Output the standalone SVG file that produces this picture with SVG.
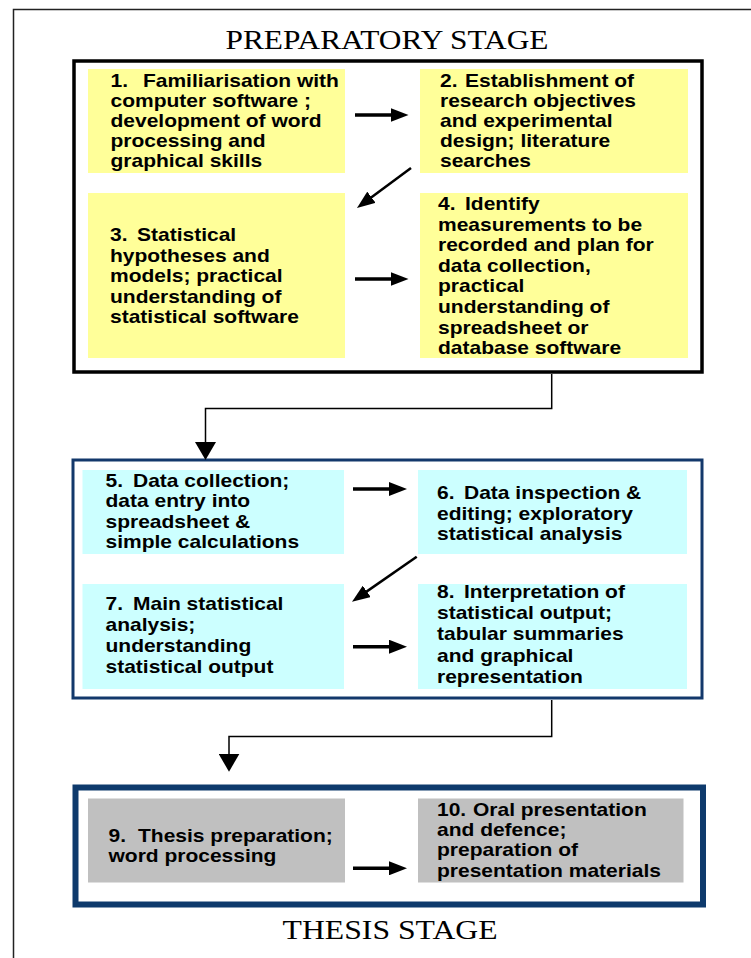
<svg xmlns="http://www.w3.org/2000/svg" width="751" height="958" viewBox="0 0 751 958">
<defs>
<style>
.t{font-family:"Liberation Sans",Arial,sans-serif;font-weight:bold;font-size:17.8px;fill:#000}
.ttl{font-family:"Liberation Serif","Times New Roman",serif;font-size:27px;fill:#000}
.y{fill:#ffff99}
.c{fill:#ccffff}
.g{fill:#c0c0c0}
.arr{stroke:#000;stroke-width:3.5;fill:none;marker-end:url(#ah)}
.diag{stroke:#000;stroke-width:2.5;fill:none;marker-end:url(#ah)}
.con{stroke:#000;stroke-width:1.5;fill:none;marker-end:url(#tri)}
</style>
<marker id="ah" markerUnits="userSpaceOnUse" viewBox="0 0 18 14" refX="10" refY="7" markerWidth="18" markerHeight="14" orient="auto"><path d="M0,0 L18,7 L0,14 z" fill="#000"/></marker>
<marker id="tri" markerUnits="userSpaceOnUse" viewBox="0 0 18 21" refX="14" refY="10.5" markerWidth="18" markerHeight="21" orient="auto"><path d="M0,0 L18,10.5 L0,21 z" fill="#000"/></marker>
</defs>
<rect x="0" y="0" width="751" height="958" fill="#fff"/>
<path d="M751,9.5 H13.5 V958" stroke="#222" stroke-width="1.5" fill="none"/>

<text class="ttl" x="225.5" y="49.3" textLength="323" lengthAdjust="spacingAndGlyphs">PREPARATORY STAGE</text>
<rect id="prep-stage" x="74" y="61" width="628" height="311" fill="none" stroke="#000" stroke-width="3.5"/>
<rect id="analysis-stage" x="73" y="460" width="629" height="238" fill="none" stroke="#13386b" stroke-width="3"/>
<rect id="thesis-stage" x="75.5" y="787.5" width="627.5" height="117" fill="none" stroke="#0e3a6c" stroke-width="6"/>
<text class="ttl" x="282.6" y="939.3" textLength="215" lengthAdjust="spacingAndGlyphs">THESIS STAGE</text>

<g id="n1">
<rect class="y" x="88" y="69" width="257" height="104"/>
<text class="t" transform="matrix(1.18,0,0,1,-19.89,0)"><tspan x="110.5" y="87.5">1.</tspan><tspan x="138" y="87.5">Familiarisation with</tspan><tspan x="110.5" y="107.5">computer software ;</tspan><tspan x="110.5" y="127.5">development of word</tspan><tspan x="110.5" y="147.5">processing and</tspan><tspan x="110.5" y="167.5">graphical skills</tspan></text>
</g>
<g id="n2">
<rect class="y" x="420" y="69" width="268" height="104"/>
<text class="t" transform="matrix(1.18,0,0,1,-79.2,0)"><tspan x="440" y="87.5">2.</tspan><tspan x="461.2" y="87.5">Establishment of</tspan><tspan x="440" y="107.5">research objectives</tspan><tspan x="440" y="127.5">and experimental</tspan><tspan x="440" y="147.5">design; literature</tspan><tspan x="440" y="167.5">searches</tspan></text>
</g>
<g id="n3">
<rect class="y" x="88" y="193" width="257" height="165"/>
<text class="t" transform="matrix(1.18,0,0,1,-19.8,0)"><tspan x="110" y="241.5">3.</tspan><tspan x="132.9" y="241.5">Statistical</tspan><tspan x="110" y="262">hypotheses and</tspan><tspan x="110" y="282.5">models; practical</tspan><tspan x="110" y="303">understanding of</tspan><tspan x="110" y="323.5">statistical software</tspan></text>
</g>
<g id="n4">
<rect class="y" x="420" y="193" width="268" height="165"/>
<text class="t" transform="matrix(1.18,0,0,1,-78.84,0)"><tspan x="438" y="210">4.</tspan><tspan x="460.9" y="210">Identify</tspan><tspan x="438" y="230.6">measurements to be</tspan><tspan x="438" y="251.2">recorded and plan for</tspan><tspan x="438" y="271.8">data collection,</tspan><tspan x="438" y="292.4">practical</tspan><tspan x="438" y="313">understanding of</tspan><tspan x="438" y="333.6">spreadsheet or</tspan><tspan x="438" y="354.2">database software</tspan></text>
</g>
<g id="n5">
<rect class="c" x="82.5" y="470" width="261.5" height="84"/>
<text class="t" transform="matrix(1.18,0,0,1,-18.99,0)"><tspan x="105.5" y="487">5.</tspan><tspan x="128.8" y="487">Data collection;</tspan><tspan x="105.5" y="507.4">data entry into</tspan><tspan x="105.5" y="527.8">spreadsheet &amp;</tspan><tspan x="105.5" y="548.2">simple calculations</tspan></text>
</g>
<g id="n6">
<rect class="c" x="418" y="470" width="269" height="84"/>
<text class="t" transform="matrix(1.18,0,0,1,-78.66,0)"><tspan x="437" y="499.5">6.</tspan><tspan x="459.9" y="499.5">Data inspection &amp;</tspan><tspan x="437" y="520">editing; exploratory</tspan><tspan x="437" y="540.5">statistical analysis</tspan></text>
</g>
<g id="n7">
<rect class="c" x="82.5" y="584" width="261.5" height="105"/>
<text class="t" transform="matrix(1.18,0,0,1,-18.99,0)"><tspan x="105.5" y="610.5">7.</tspan><tspan x="128.8" y="610.5">Main statistical</tspan><tspan x="105.5" y="631.5">analysis;</tspan><tspan x="105.5" y="652.5">understanding</tspan><tspan x="105.5" y="673.5">statistical output</tspan></text>
</g>
<g id="n8">
<rect class="c" x="418" y="584" width="269" height="105"/>
<text class="t" transform="matrix(1.18,0,0,1,-78.66,0)"><tspan x="437" y="598">8.</tspan><tspan x="459.9" y="598">Interpretation of</tspan><tspan x="437" y="619.2">statistical output;</tspan><tspan x="437" y="640.4">tabular summaries</tspan><tspan x="437" y="661.6">and graphical</tspan><tspan x="437" y="682.8">representation</tspan></text>
</g>
<g id="n9">
<rect class="g" x="88" y="798.5" width="257" height="84"/>
<text class="t" transform="matrix(1.18,0,0,1,-19.53,0)"><tspan x="108.5" y="841.7">9.</tspan><tspan x="133.5" y="841.7">Thesis preparation;</tspan><tspan x="108.5" y="861.9">word processing</tspan></text>
</g>
<g id="n10">
<rect class="g" x="418" y="798.5" width="265.5" height="84"/>
<text class="t" transform="matrix(1.18,0,0,1,-78.66,0)"><tspan x="437" y="816">10.</tspan><tspan x="467.5" y="816">Oral presentation</tspan><tspan x="437" y="836.2">and defence;</tspan><tspan x="437" y="856.4">preparation of</tspan><tspan x="437" y="876.6">presentation materials</tspan></text>
</g>

<g id="connectors">
<line class="arr" x1="355" y1="115" x2="400.5" y2="115"/>
<line class="diag" x1="411" y1="168" x2="363.4" y2="203.2"/>
<line class="arr" x1="355" y1="279" x2="400.5" y2="279"/>
<polyline class="con" points="551.7,374 551.7,408.5 205.5,408.5 205.5,456"/>
<line class="arr" x1="353" y1="489" x2="399" y2="489"/>
<line class="diag" x1="416.7" y1="556.7" x2="358.6" y2="597.1"/>
<line class="arr" x1="353" y1="646.7" x2="399" y2="646.7"/>
<polyline class="con" points="551.7,700 551.7,736.5 229,736.5 229,767.7"/>
<line class="arr" x1="353" y1="868.3" x2="399" y2="868.3"/>
</g>
</svg>
